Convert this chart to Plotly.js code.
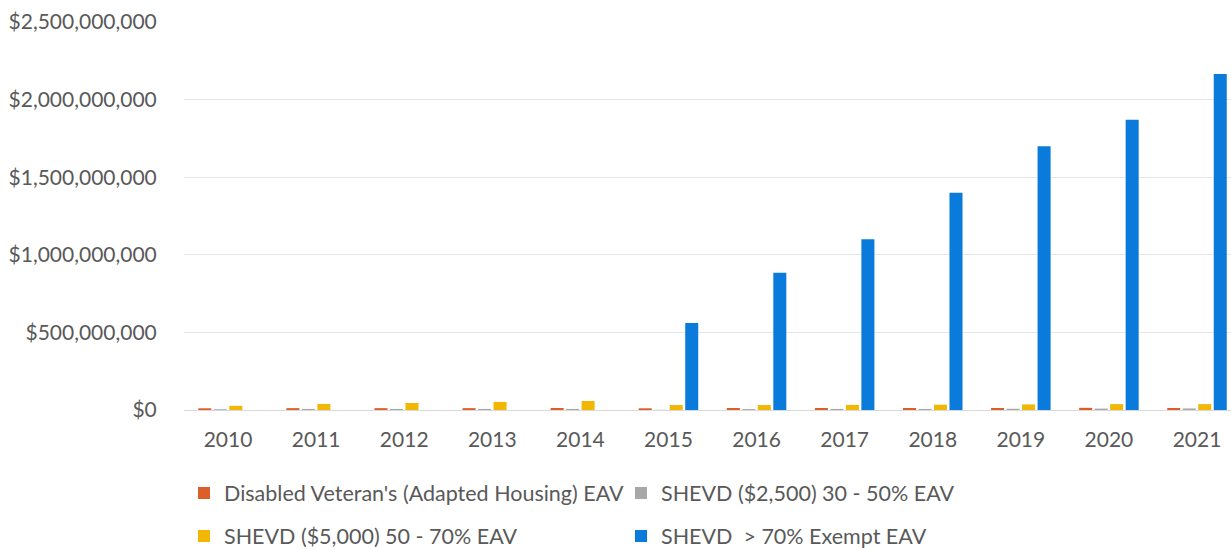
<!DOCTYPE html>
<html>
<head>
<meta charset="utf-8">
<script src="https://cdn.plot.ly/plotly-3.0.1.min.js"></script>
<style>html,body{margin:0;padding:0;background:#fff;}#chart{width:1231px;height:550px;}</style>
</head>
<body>
<div id="chart"></div>
<script>
const years = ['2010','2011','2012','2013','2014','2015','2016','2017','2018','2019','2020','2021'];
const seriesNames = [
  "Disabled Veteran's (Adapted Housing) EAV",
  "SHEVD ($2,500) 30 - 50% EAV",
  "SHEVD ($5,000) 50 - 70% EAV",
  "SHEVD  > 70% Exempt EAV"
];
const adaptedHousing = [11e6, 12e6, 12e6, 12e6, 13e6, 11e6, 13e6, 13e6, 13e6, 13e6, 14e6, 13e6];
const shevd2500 = [5e6, 7e6, 7e6, 7e6, 7e6, 1e6, 6e6, 7e6, 7e6, 8e6, 9e6, 10e6];
const shevd5000 = [27e6, 39e6, 45e6, 52e6, 58e6, 32e6, 32e6, 33e6, 34e6, 36e6, 38e6, 38e6];
const shevd70 = [0, 0, 0, 0, 0, 561e6, 884e6, 1100e6, 1400e6, 1700e6, 1870e6, 2165e6];
const yTickVals = [0, 500e6, 1000e6, 1500e6, 2000e6, 2500e6];
const yTickText = ['$0', '$500,000,000', '$1,000,000,000', '$1,500,000,000', '$2,000,000,000', '$2,500,000,000'];

const colors = ['#DC5F2A', '#A8A8A8', '#F2B705', '#0A7BDB'];
const values = [adaptedHousing, shevd2500, shevd5000, shevd70];
const legends = ['legend', 'legend', 'legend2', 'legend2'];
const font = 'Lato, "Open Sans", sans-serif';

const data = values.map((v, i) => ({
  type: 'bar', x: years, y: v, name: seriesNames[i],
  marker: {color: colors[i], line: {width: 0}},
  legend: legends[i], hoverinfo: 'skip'
}));

const legendCommon = {
  orientation: 'h', xanchor: 'left', yanchor: 'middle',
  font: {family: font, size: 21.5, color: '#595959'},
  entrywidth: 392, itemwidth: 30, bgcolor: 'rgba(0,0,0,0)', traceorder: 'normal'
};

const layout = {
  width: 1231, height: 550,
  margin: {l: 184, r: 0, t: 22, b: 140, autoexpand: false},
  paper_bgcolor: '#fff', plot_bgcolor: '#fff',
  barmode: 'group', bargap: 0.296, bargroupgap: 0.16,
  font: {family: font, color: '#595959', size: 21},
  xaxis: {
    type: 'category', range: [-0.5, 11.386],
    showgrid: false, showline: false, zeroline: false,
    ticks: 'outside', ticklen: 11, tickcolor: 'rgba(0,0,0,0)',
    tickfont: {family: font, size: 21, color: '#595959'}
  },
  yaxis: {
    range: [0, 2.5e9], tickvals: yTickVals, ticktext: yTickText,
    showgrid: true, gridcolor: '#E6E6E6', gridwidth: 1,
    zeroline: true, zerolinecolor: '#D9D9D9', zerolinewidth: 1,
    showline: false, ticks: 'outside', ticklen: 22, tickcolor: 'rgba(0,0,0,0)',
    tickfont: {family: font, size: 21, color: '#595959'}
  },
  showlegend: true,
  legend: Object.assign({x: 0.0, y: -0.214}, legendCommon),
  legend2: Object.assign({x: 0.0, y: -0.325}, legendCommon)
};

Plotly.newPlot('chart', data, layout, {staticPlot: true, displayModeBar: false});
</script>
</body>
</html>
